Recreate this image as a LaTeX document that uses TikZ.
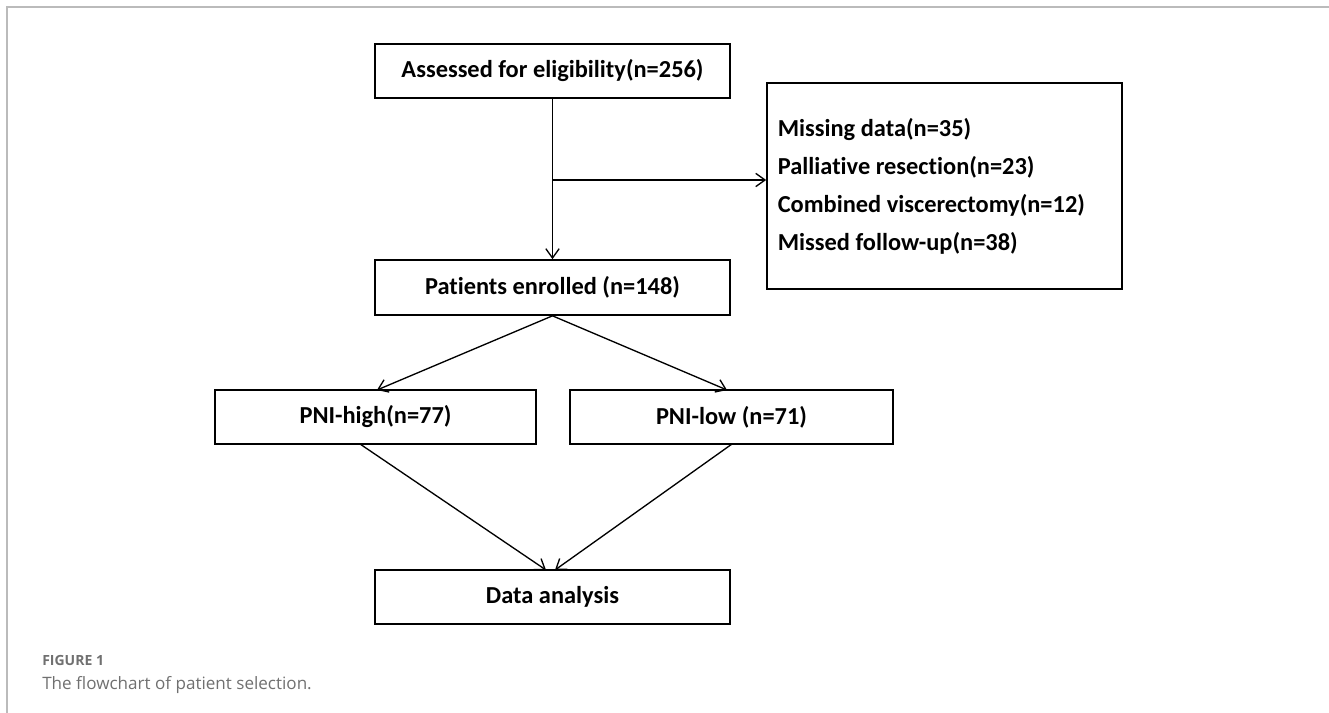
\documentclass[tikz,border=0pt]{standalone}
\usepackage{fontspec}
\setmainfont{Carlito}[Ligatures=NoCommon]
\newfontfamily\captionfont{Open Sans}
\usepackage{tikz}
\usetikzlibrary{
  positioning,
  calc,
  arrows.meta
}
\definecolor{framegray}{HTML}{BBBBBB}
\definecolor{captiongray}{HTML}{707070}
\tikzstyle{stepbox}=[draw, line width=1.5pt, font=\fontsize{18.3}{22}\selectfont\bfseries, inner sep=0pt]
\tikzstyle{flow}=[-{Straight Barb[length=7pt, width=10pt]}, line width=1pt]

\begin{document}
\begin{tikzpicture}[x=0.75pt, y=-0.75pt]
    % 描画範囲
    \useasboundingbox (0,0) rectangle (1329,713);
    % 外枠
    \draw [framegray, line width=1.2pt] (7,713) -- (7,7) -- (1329,7);

    % 各ボックス
    \node[stepbox, minimum width=266pt, minimum height=40pt] (assess) at (552.5,71) {Assessed for eligibility(n=256)};
    \node[stepbox, minimum width=266pt, minimum height=41pt] (enrol) at (552.5,287.5) {Patients enrolled (n=148)};
    \node[stepbox, minimum width=241pt, minimum height=40pt] (high) at (375.5,417) {PNI-high(n=77)};
    \node[stepbox, minimum width=242pt, minimum height=40pt] (low) at (731.5,417) {PNI-low (n=71)};
    \node[stepbox, minimum width=266pt, minimum height=40pt] (data) at (552.5,597) {Data analysis};

    % 除外ボックス
    \node[stepbox, minimum width=266pt, minimum height=155pt, text width=250pt, align=flush left,
          font=\fontsize{18.3}{28.5}\selectfont\bfseries] (excl) at (944.5,186)
          {Missing data(n=35)\\Palliative resection(n=23)\\Combined viscerectomy(n=12)\\Missed follow-up(n=38)};

    % 分岐点
    \coordinate (split) at (assess.south |- 0,180);
    \coordinate (highin) at (377,390);
    \coordinate (lowin) at (727,390);
    \coordinate (highout) at (360,444);
    \coordinate (lowout) at (732,444);
    \coordinate (datainl) at (546,570);
    \coordinate (datainr) at (555,570);

    % 矢印
    \draw[flow] (assess.south) -- (enrol.north);
    \draw[flow] (split) -- (excl.west |- split);
    \draw[flow] (enrol.south) -- (highin);
    \draw[flow] (enrol.south) -- (lowin);
    \draw[flow] (highout) -- (datainl);
    \draw[flow] (lowout) -- (datainr);

    % キャプション
    \node[anchor=base west, inner sep=0pt, text=captiongray, font=\captionfont\fontsize{10.5}{12}\selectfont\bfseries] (fig) at (42,665) {FIGURE 1};
    \node[anchor=base west, inner sep=0pt, text=captiongray, font=\captionfont\fontsize{12.8}{15}\selectfont] (cap) at (42,689) {The flowchart of patient selection.};
\end{tikzpicture}
\end{document}
